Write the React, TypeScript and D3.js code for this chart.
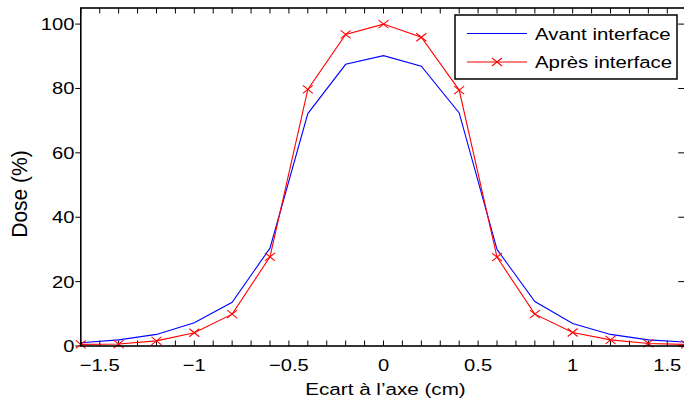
import React from "react";
import * as d3 from "d3";

const xValues = [-1.6, -1.4, -1.2, -1.0, -0.8, -0.6, -0.4, -0.2, 0, 0.2, 0.4, 0.6, 0.8, 1.0, 1.2, 1.4, 1.6];
const avant = [1.0, 1.9, 3.6, 7.2, 13.6, 30.4, 72.2, 87.5, 90.2, 86.9, 72.4, 30.0, 13.8, 7.0, 3.6, 1.9, 1.2];
const apres = [0.5, 0.6, 1.6, 4.1, 9.9, 27.7, 79.7, 96.8, 100, 95.9, 79.5, 27.6, 9.9, 4.2, 1.9, 0.8, 0.5];
const xTickLabels = [-1.5, -1, -0.5, 0, 0.5, 1, 1.5];
const yTickLabels = [0, 20, 40, 60, 80, 100];
const seriesNames = ["Avant interface", "Après interface"];
const xLabel = "Ecart à l’axe (cm)";
const yLabel = "Dose (%)";

const W = 684, H = 405;
const SX = 1.2; // horizontal text stretch
const FONT = "'Liberation Sans', Arial, Helvetica, sans-serif";

export default function App() {
  const x = d3.scaleLinear().domain([-1.6, 1.6]).range([80.8, 686.2]);
  const y = d3.scaleLinear().domain([0, 105]).range([346, 8]);
  const [l, r] = x.range();
  const [b, t] = y.range();

  const line = d3.line<number>().x((_, i) => x(xValues[i])).y((d) => y(d));
  const minorTicks = d3.range(-16, 17).map((k) => k / 10);

  const fmt = (v: number) => (v < 0 ? "\u2212" + String(Math.abs(v)) : String(v));

  const cross = (cx: number, cy: number, key: string | number) => {
    const hx = 5, hy = 4;
    return (
      <path key={key} d={`M${cx - hx},${cy - hy}L${cx + hx},${cy + hy}M${cx - hx},${cy + hy}L${cx + hx},${cy - hy}`}
        stroke="#ff0000" strokeWidth={1.1} fill="none" />
    );
  };

  const txt = (s: string, tx: number, ty: number, anchor: string, size: number, key?: any, rot = 0, sx = SX) => (
    <g key={key} transform={`translate(${tx},${ty}) scale(${sx},1)${rot ? ` rotate(${rot})` : ""}`}>
      <text x={0} y={0} textAnchor={anchor as any} fontSize={size} fontFamily={FONT} fill="#000">{s}</text>
    </g>
  );

  return (
    <svg width={W} height={H} style={{ position: "absolute", left: 0, top: 0, background: "#fff" }}>
      <rect x={0} y={0} width={W} height={H} fill="#fff" />
      {minorTicks.map((v, i) => (
        <g key={"xt" + i}>
          <line x1={x(v)} x2={x(v)} y1={b} y2={b - 5.5} stroke="#000" strokeWidth={1} />
          <line x1={x(v)} x2={x(v)} y1={t} y2={t + 5.5} stroke="#000" strokeWidth={1} />
        </g>
      ))}
      {yTickLabels.map((v, i) => (
        <g key={"yt" + i}>
          <line x1={l - 5.5} x2={l} y1={y(v)} y2={y(v)} stroke="#000" strokeWidth={1} />
          <line x1={r - 8} x2={r - 2} y1={y(v)} y2={y(v)} stroke="#000" strokeWidth={1} />
        </g>
      ))}
      <path d={line(avant) || ""} fill="none" stroke="#0000ff" strokeWidth={1.1} />
      <path d={line(apres) || ""} fill="none" stroke="#ff0000" strokeWidth={1.1} />
      {apres.map((v, i) => cross(x(xValues[i]), y(v), "m" + i))}
      <rect x={l} y={t} width={r - l} height={b - t} fill="none" stroke="#000" strokeWidth={1.6} />
      {xTickLabels.map((v, i) => txt(fmt(v), x(v), 370.5, "middle", 16.8, "xl" + i))}
      {yTickLabels.map((v, i) => txt(String(v), 74.5, y(v) + 6, "end", 16.8, "yl" + i))}
      {txt(xLabel, (l + 686.2) / 2 + 2, 395, "middle", 17.2, "xlab")}
      {txt(yLabel, 27, 194, "middle", 21, "ylab", -90, 1.05)}
      <rect x={455} y={15} width={222} height={64} fill="#fff" stroke="#000" strokeWidth={1.5} />
      <line x1={467} x2={527} y1={33.5} y2={33.5} stroke="#0000ff" strokeWidth={1.1} />
      <line x1={467} x2={527} y1={62} y2={62} stroke="#ff0000" strokeWidth={1.1} />
      {cross(497, 62, "legm")}
      {txt(seriesNames[0], 535, 39.5, "start", 17, "lg0")}
      {txt(seriesNames[1], 535, 68, "start", 17, "lg1")}
    </svg>
  );
}
